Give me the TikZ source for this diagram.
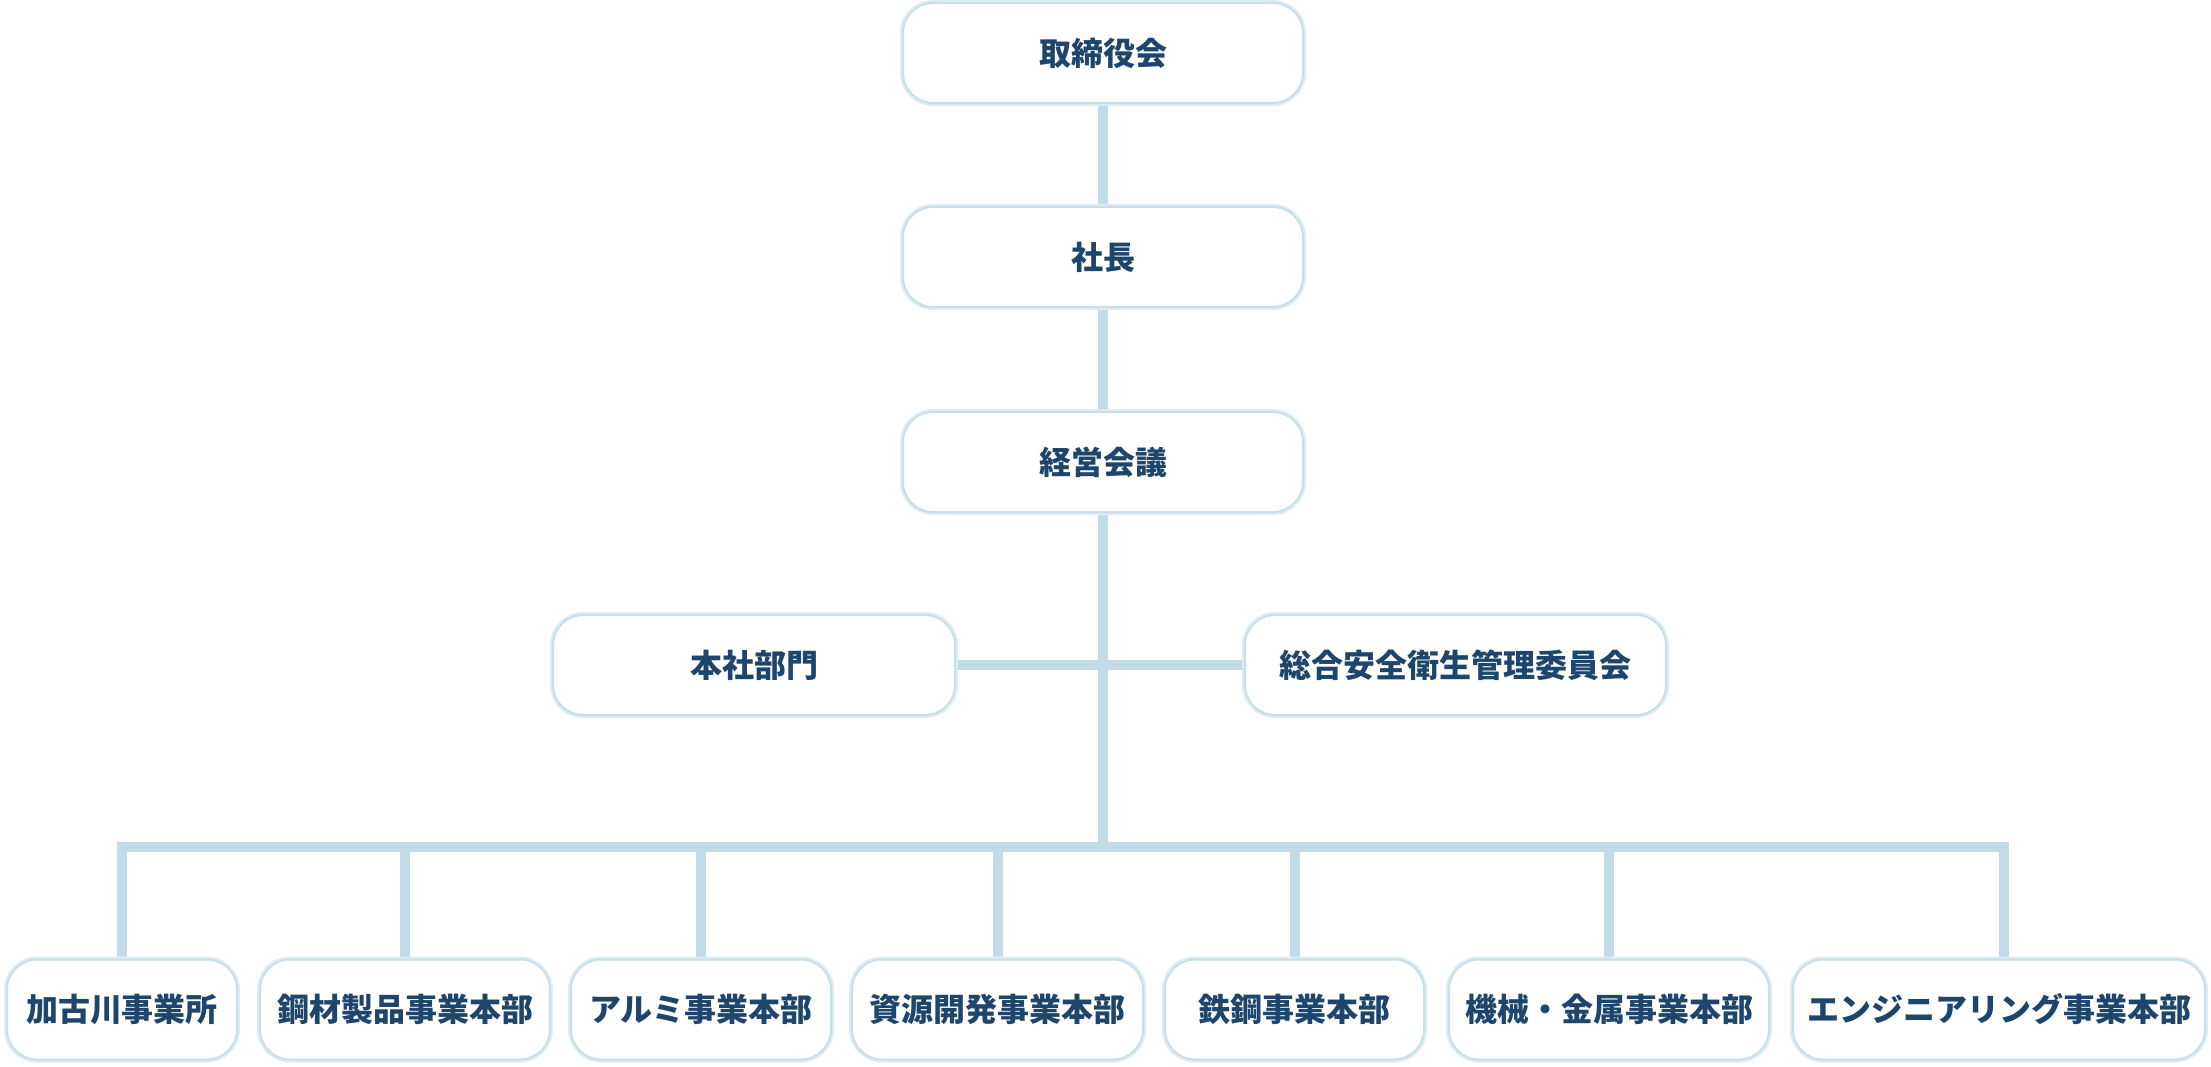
\documentclass[tikz,border=0pt]{standalone}
\usepackage{fontspec}
\setmainfont{Noto Sans CJK JP}
\usetikzlibrary{backgrounds}
\definecolor{linec}{RGB}{194,219,230}
\definecolor{glowc}{RGB}{222,236,242}
\definecolor{edgec}{RGB}{200,223,233}
\definecolor{txtc}{RGB}{30,70,108}
\tikzset{
  orgbox/.style={rectangle, rounded corners=30pt, fill=white,
    preaction={draw=glowc, line width=6pt},
    draw=edgec, line width=2pt,
    minimum height=100pt, inner sep=0pt,
    font=\fontsize{32pt}{38pt}\selectfont\bfseries, text=txtc},
  conn/.style={draw=linec, line width=10pt, line join=miter}
}
\begin{document}
\begin{tikzpicture}[x=1pt,y=-1pt]
\useasboundingbox (0,0) rectangle (2211,1067);
\path
  (1103,53)   node[orgbox, minimum width=400pt] (board) {取締役会}
  (1103,257)  node[orgbox, minimum width=400pt] (pres) {社長}
  (1103,462)  node[orgbox, minimum width=400pt] (mgmt) {経営会議}
  (754,665)   node[orgbox, minimum width=402pt] (hq) {本社部門}
  (1455.5,665) node[orgbox, minimum width=421pt] (safety) {総合安全衛生管理委員会}
  (122,1009.5)  node[orgbox, minimum width=230pt] (b1) {加古川事業所}
  (405,1009.5)  node[orgbox, minimum width=290pt] (b2) {鋼材製品事業本部}
  (701,1009.5)  node[orgbox, minimum width=260pt] (b3) {アルミ事業本部}
  (997.5,1009.5) node[orgbox, minimum width=291pt] (b4) {資源開発事業本部}
  (1294.5,1009.5) node[orgbox, minimum width=259pt] (b5) {鉄鋼事業本部}
  (1609,1009.5) node[orgbox, minimum width=320pt] (b6) {機械・金属事業本部}
  (1999,1009.5) node[orgbox, minimum width=412pt] (b7) {エンジニアリング事業本部};
\coordinate (bus) at (1103,847);
\begin{scope}[on background layer]
  \draw[conn] (board.south) -- (pres.north);
  \draw[conn] (pres.south) -- (mgmt.north);
  \draw[conn] (mgmt.south) -- (bus);
  \draw[conn] (hq.east) -- (safety.west);
  \draw[conn] (b1.north) -- (b1.north |- bus) -- ([xshift=5pt]b7.north |- bus) -- ([xshift=5pt]b7.north);
  \draw[conn] (b2.north |- bus) -- (b2.north);
  \draw[conn] (b3.north |- bus) -- (b3.north);
  \draw[conn] (b4.north |- bus) -- (b4.north);
  \draw[conn] (b5.north |- bus) -- (b5.north);
  \draw[conn] (b6.north |- bus) -- (b6.north);
\end{scope}
\end{tikzpicture}
\end{document}
